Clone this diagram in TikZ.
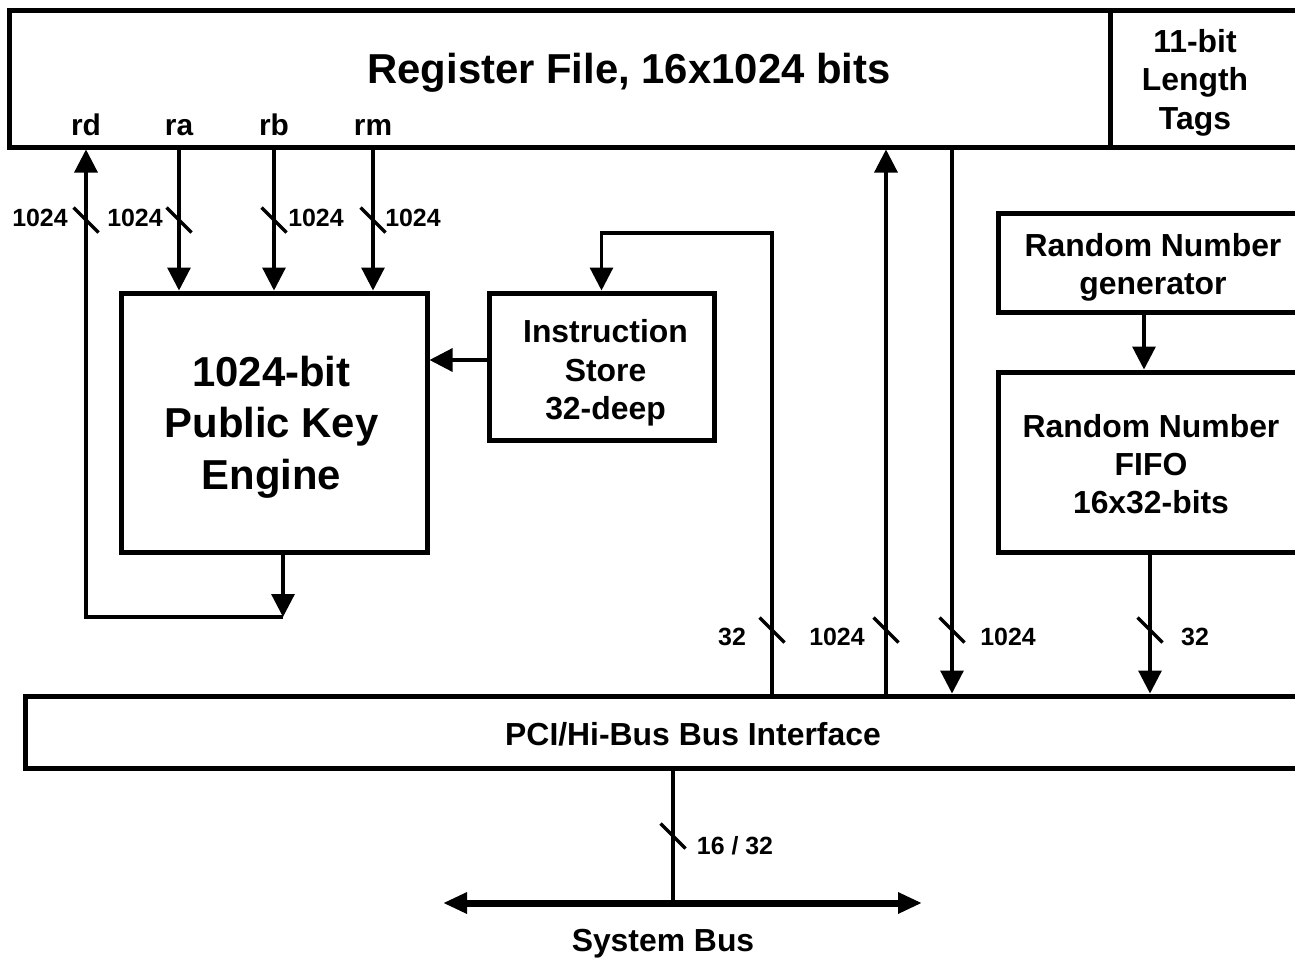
\documentclass[tikz,border=0pt]{standalone}
\usepackage{fontspec}
\setmainfont{Liberation Sans}
\usetikzlibrary{calc,arrows.meta}
\def\busmark(#1){\draw[wire] ($(#1)+(-12.5,-12.5)$) -- ++(25,25);}

\begin{document}
\begin{tikzpicture}[x=1bp, y=-1bp, font=\bfseries,
	block/.style={draw, line width=5bp, inner sep=0pt},
	wire/.style={line width=3.2bp},
	tip/.style={-{Triangle[length=23bp,width=23bp]}},
	big/.style={font=\fontsize{42}{51.5}\selectfont\bfseries, align=center},
	mid/.style={font=\fontsize{32}{38.5}\selectfont\bfseries, align=center},
	reg/.style={font=\fontsize{30}{36}\selectfont\bfseries, anchor=base},
	small/.style={font=\fontsize{25}{30}\selectfont\bfseries, inner sep=0pt}]
	\useasboundingbox (0,0) rectangle (1295,959);
	\clip (0,0) rectangle (1295,959);
	
	% register file
	\node[block, minimum width=1390bp, minimum height=137bp] (regfile) at (705,78.5) {};
	\draw[line width=5bp] (1110,10) -- (1110,147);
	\node[big] (title) at (629,73) {Register File, 16x1024 bits};
	\node[mid] (tags) at (1195,82.5) {11-bit\\Length\\Tags};
	\foreach \n/\x in {rd/86, ra/179, rb/274, rm/373}
		\node[reg] (\n) at (\x,135) {\n};
	
	% blocks
	\node[block, minimum width=305bp, minimum height=259bp] (pke) at (274.5,422.5) {};
	\node[block, minimum width=225bp, minimum height=147bp] (is) at (601.5,366.5) {};
	\node[block, minimum width=310bp, minimum height=99bp] (rng) at (1153,262.5) {};
	\node[block, minimum width=310bp, minimum height=180bp] (fifo) at (1153,462) {};
	\node[block, minimum width=1334bp, minimum height=72bp] (bus) at (693,732) {};
	\node[big] (pketext) at ($(pke)+(-3,4.5)$) {1024-bit\\Public Key\\Engine};
	\node[mid] (istext) at ($(is)+(4,6.5)$) {Instruction\\Store\\32-deep};
	\node[mid] (rngtext) at ($(rng)+(0,5)$) {Random Number\\generator};
	\node[mid] (fifotext) at ($(fifo)+(-2,2)$) {Random Number\\FIFO\\16x32-bits};
	\node[mid] (bustext) at ($(bus)+(0,2)$) {PCI/Hi-Bus Bus Interface};
	
	% register ports
	\coordinate (loop) at (283,617);
	\draw[wire, tip] (loop |- pke.south) -- (loop);
	\draw[wire, tip] (loop) -- (loop -| rd) -- (rd |- regfile.south);
	\foreach \n in {ra,rb,rm}
		\draw[wire, tip] (\n |- regfile.south) -- (\n |- pke.north);
	\busmark(86,220)
	\busmark(179,220)
	\busmark(274,220)
	\busmark(373,220)
	\node[small] (wrd) at (40,218) {1024};
	\node[small] (wra) at (135,218) {1024};
	\node[small] (wrb) at (316,218) {1024};
	\node[small] (wrm) at (413,218) {1024};
	
	% instruction store
	\coordinate (isin) at (0,360);
	\draw[wire, tip] (is.west |- isin) -- (pke.east |- isin);
	\coordinate (fb) at (772,233);
	\draw[wire, tip] (bus.north -| fb) -- (fb) -- (fb -| is.north) -- (is.north);
	
	% bus links
	\coordinate (upbus) at (886,400);
	\coordinate (dnbus) at (952,400);
	\coordinate (rnin) at (1144,340);
	\coordinate (rnout) at (1150,600);
	\draw[wire, tip] (bus.north -| upbus) -- (regfile.south -| upbus);
	\draw[wire, tip] (regfile.south -| dnbus) -- (bus.north -| dnbus);
	\draw[wire, tip] (rng.south -| rnin) -- (fifo.north -| rnin);
	\draw[wire, tip] (fifo.south -| rnout) -- (bus.north -| rnout);
	\busmark(772,630)
	\busmark(886,630)
	\busmark(952,630)
	\busmark(1150,630)
	\node[small] (wfb) at (732,637) {32};
	\node[small] (wup) at (837,637) {1024};
	\node[small] (wdn) at (1008,637) {1024};
	\node[small] (wrn) at (1195,637) {32};
	
	% system bus
	\coordinate (sys) at (673,903);
	\coordinate (sysl) at (443,903);
	\coordinate (sysr) at (922,903);
	\draw[wire] (bus.south -| sys) -- (sys);
	\draw[line width=7bp, {Triangle[length=24bp,width=20bp]}-{Triangle[length=24bp,width=20bp]}] (sysl) -- (sysr);
	\busmark(673,836)
	\node[small] (wsys) at (735,846) {16 / 32};
	\node[mid] (sysname) at (663,944) {System Bus};
\end{tikzpicture}
\end{document}
